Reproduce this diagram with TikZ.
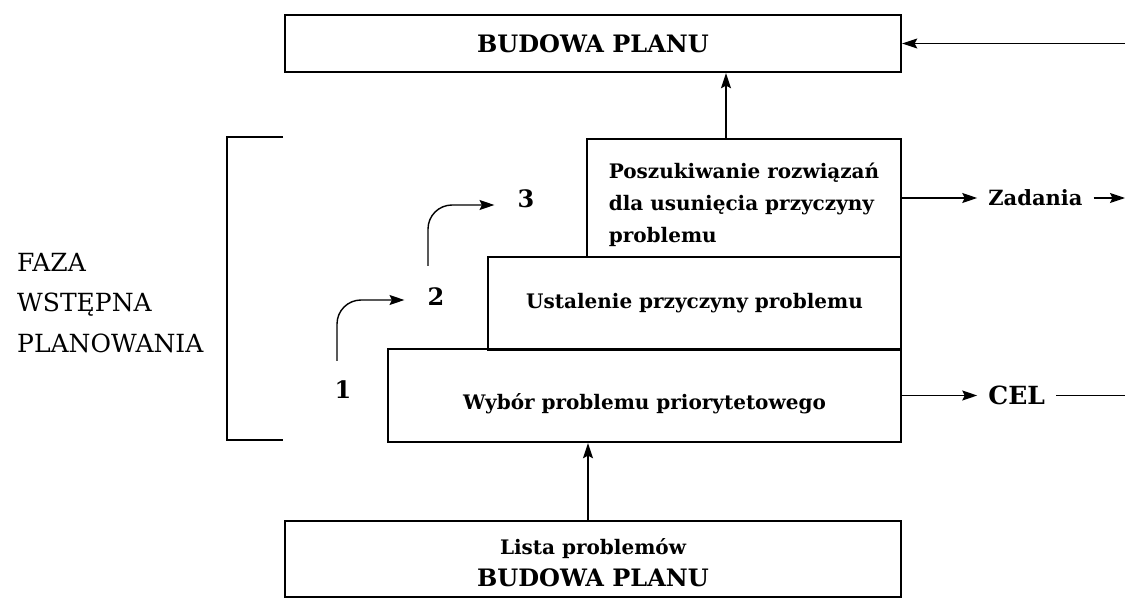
\documentclass[tikz,border=0pt]{standalone}
\usepackage{fontspec}
\setmainfont{DejaVu Serif}
\usetikzlibrary{arrows.meta,positioning}

\begin{document}
\begin{tikzpicture}[x=1pt,y=-1pt,
                    box/.style={draw,line width=2.4pt,inner sep=0pt,font=\bfseries\fontsize{20}{32}\selectfont},
                    lbl/.style={inner xsep=11pt,inner ysep=2pt,font=\bfseries\fontsize{21}{24}\selectfont},
                    num/.style={inner sep=2pt,font=\bfseries\fontsize{24}{28}\selectfont},
                    con/.style={-{Stealth[length=15pt,width=10pt,inset=2.5pt]},line width=1.4pt}]
  \useasboundingbox (0,0) rectangle (1125,599);

  \node[box,minimum width=616pt,minimum height=57pt,font=\bfseries\fontsize{24}{30}\selectfont] (P) at (593,43.5) {BUDOWA PLANU};
  \node[box,minimum width=314pt,minimum height=118pt,align=left] (S) at (744,198) {\rule{0pt}{30pt}Poszukiwanie rozwiązań\\dla usunięcia przyczyny\\problemu};
  \node[box,minimum width=413pt,minimum height=93pt] (U) at (694.5,303.5) {Ustalenie przyczyny problemu};
  \node[box,minimum width=513pt,minimum height=93pt,text height=32pt] (W) at (644.5,395.5) {Wybór problemu priorytetowego};
  \node[box,minimum width=616pt,minimum height=76pt,align=center] (L) at (593,559) {\rule{0pt}{24pt}Lista problemów\\\fontsize{24}{32}\selectfont BUDOWA PLANU};

  \node[anchor=west,align=left,inner sep=0pt,font=\fontsize{25}{40.5}\selectfont] (F) at (17,303) {FAZA\\WSTĘPNA\\PLANOWANIA};
  \draw[line width=2.4pt] (283,137) -| (227,440) -- (283,440);

  \node[num] (N1) at (343,390) {1};
  \node[num] (N2) at (436,297) {2};
  \node[num] (N3) at (526,199) {3};
  \draw[con,rounded corners=24pt,shorten <=18pt,shorten >=21pt] ([xshift=-6pt]N1.north) |- ([yshift=-3pt]N2.west);
  \draw[con,rounded corners=24pt,shorten <=20pt,shorten >=21pt] ([xshift=-8pt]N2.north) |- ([yshift=-6pt]N3.west);

  \node[lbl,right=75pt of S] (Z) {Zadania};
  \node[lbl,right=75pt of W,font=\bfseries\fontsize{25}{28}\selectfont] (C) {CEL};
  \coordinate (Zo) at (1125,198);
  \coordinate (Co) at (1125,395.5);
  \coordinate (Po) at (1125,43.5);
  \draw[con] (S) -- (Z);
  \draw[con] (Z) -- (Zo);
  \draw[con] (W) -- (C);
  \draw[line width=1.4pt] (C) -- (Co);
  \draw[con] (Po) -- (P);
  \draw[con] ([xshift=-18pt]S.north) -- ([xshift=-18pt]S.north |- P.south);
  \draw[con] ([xshift=-5pt]L.north) -- ([xshift=-5pt]L.north |- W.south);
\end{tikzpicture}
\end{document}
